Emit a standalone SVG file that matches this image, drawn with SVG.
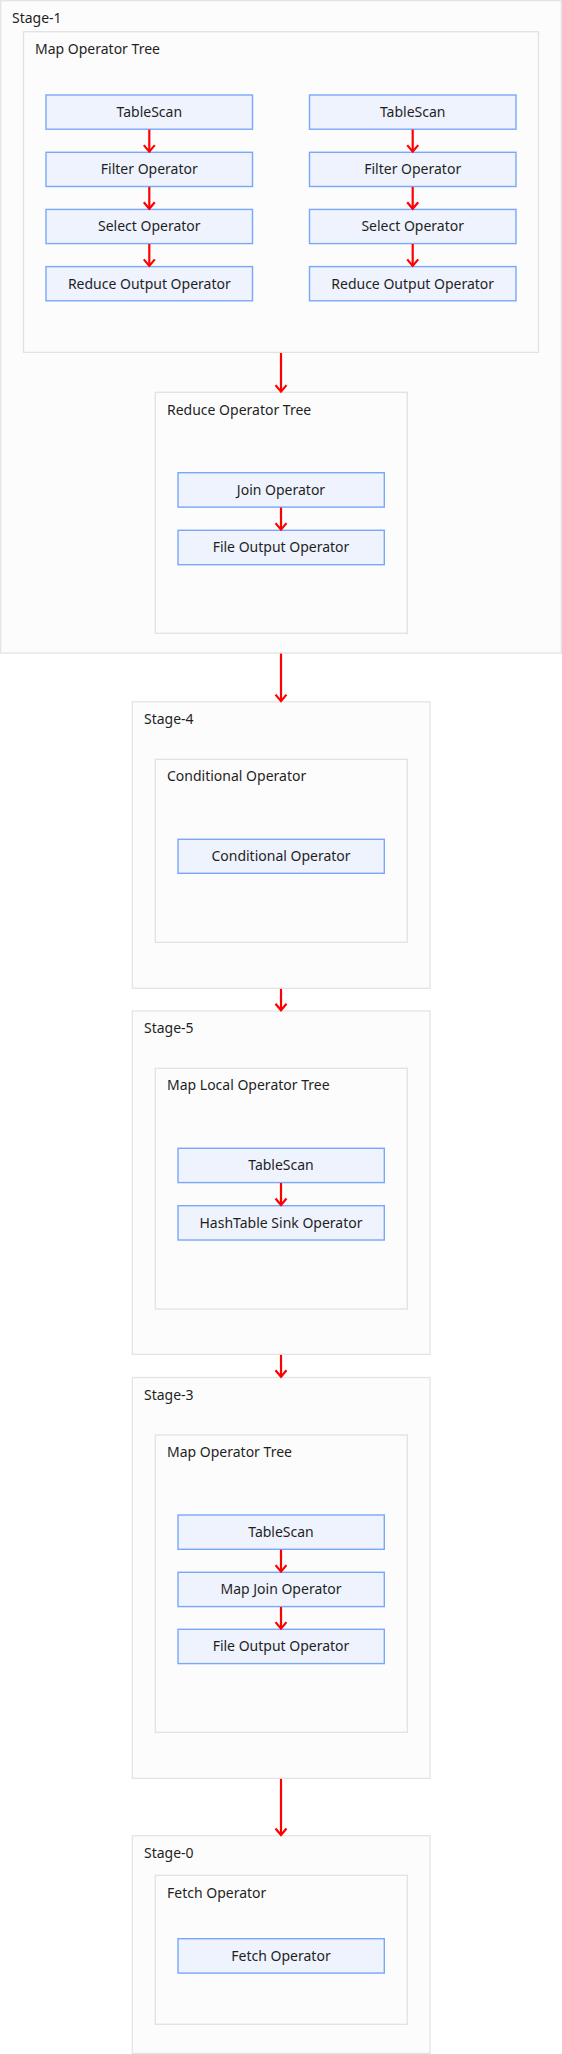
<svg xmlns="http://www.w3.org/2000/svg" width="562" height="2054" viewBox="0 0 562 2054">
<defs>
<marker id="arr" markerUnits="userSpaceOnUse" markerWidth="10" markerHeight="16" viewBox="-8 -8 10 16" refX="0" refY="0" orient="auto" overflow="visible">
<path d="M-6.5,-5.5 L0,0 L-6.5,5.5" fill="none" stroke="#ff0000" stroke-width="2.2"/>
</marker>
<style>
.stage{fill:#fcfcfc;stroke:#e4e4e4;stroke-width:1.3}
.tree{fill:#fcfcfc;stroke:#e2e2e2;stroke-width:1.3}
.op{fill:#eef3fe;stroke:#7aa7f8;stroke-width:1.4}
text{font-family:"Noto Sans","Open Sans","Liberation Sans",sans-serif;font-size:14px;fill:#1f1f1f}
.c{text-anchor:middle}
.e{stroke:#ff0000;stroke-width:2.2;fill:none}
</style>
</defs>

<g id="stage1">
<rect class="stage" x="0.7" y="0.7" width="560.6" height="652.3"/>
<text x="12" y="23">Stage-1</text>
</g>
<g id="mapTree1">
<rect class="tree" x="23.5" y="31.7" width="515" height="320.7"/>
<text x="35" y="54">Map Operator Tree</text>
</g>
<g id="ts1"><rect class="op" x="46" y="95" width="206.5" height="34.2"/><text class="c" x="149.3" y="117">TableScan</text></g>
<g id="fo1"><rect class="op" x="46" y="152.3" width="206.5" height="34.2"/><text class="c" x="149.3" y="174.3">Filter Operator</text></g>
<g id="so1"><rect class="op" x="46" y="209.4" width="206.5" height="34.2"/><text class="c" x="149.3" y="231.4">Select Operator</text></g>
<g id="ro1"><rect class="op" x="46" y="266.6" width="206.5" height="34.2"/><text class="c" x="149.3" y="288.6">Reduce Output Operator</text></g>
<g id="ts2"><rect class="op" x="309.5" y="95" width="206.5" height="34.2"/><text class="c" x="412.7" y="117">TableScan</text></g>
<g id="fo2"><rect class="op" x="309.5" y="152.3" width="206.5" height="34.2"/><text class="c" x="412.7" y="174.3">Filter Operator</text></g>
<g id="so2"><rect class="op" x="309.5" y="209.4" width="206.5" height="34.2"/><text class="c" x="412.7" y="231.4">Select Operator</text></g>
<g id="ro2"><rect class="op" x="309.5" y="266.6" width="206.5" height="34.2"/><text class="c" x="412.7" y="288.6">Reduce Output Operator</text></g>

<g id="reduceTree">
<rect class="tree" x="155.3" y="392.3" width="252" height="241"/>
<text x="167" y="415">Reduce Operator Tree</text>
</g>
<g id="join"><rect class="op" x="178" y="472.7" width="206.3" height="34.4"/><text class="c" x="281" y="494.8">Join Operator</text></g>
<g id="fout1"><rect class="op" x="178" y="530.3" width="206.3" height="34.4"/><text class="c" x="281" y="552.4">File Output Operator</text></g>

<g id="stage4">
<rect class="stage" x="132.3" y="701.8" width="297.7" height="286.5"/>
<text x="144" y="724">Stage-4</text>
</g>
<g id="condTree">
<rect class="tree" x="155.3" y="759.3" width="252" height="183"/>
<text x="167" y="781">Conditional Operator</text>
</g>
<g id="cond"><rect class="op" x="178" y="839.3" width="206.3" height="34"/><text class="c" x="281" y="861.3">Conditional Operator</text></g>

<g id="stage5">
<rect class="stage" x="132.3" y="1011" width="297.7" height="343.3"/>
<text x="144" y="1033">Stage-5</text>
</g>
<g id="mapLocalTree">
<rect class="tree" x="155.3" y="1068.3" width="252" height="240.7"/>
<text x="167" y="1090">Map Local Operator Tree</text>
</g>
<g id="ts3"><rect class="op" x="178" y="1148.3" width="206.3" height="34.3"/><text class="c" x="281" y="1170.4">TableScan</text></g>
<g id="hts"><rect class="op" x="178" y="1205.7" width="206.3" height="34.3"/><text class="c" x="281" y="1227.8">HashTable Sink Operator</text></g>

<g id="stage3">
<rect class="stage" x="132.3" y="1377.5" width="297.7" height="400.8"/>
<text x="144" y="1399.5">Stage-3</text>
</g>
<g id="mapTree3">
<rect class="tree" x="155.3" y="1435" width="252" height="297.3"/>
<text x="167" y="1457">Map Operator Tree</text>
</g>
<g id="ts4"><rect class="op" x="178" y="1515" width="206.3" height="34.3"/><text class="c" x="281" y="1537.1">TableScan</text></g>
<g id="mj"><rect class="op" x="178" y="1572.3" width="206.3" height="34.3"/><text class="c" x="281" y="1594.4">Map Join Operator</text></g>
<g id="fout2"><rect class="op" x="178" y="1629.3" width="206.3" height="34.3"/><text class="c" x="281" y="1651.4">File Output Operator</text></g>

<g id="stage0">
<rect class="stage" x="132.3" y="1835.7" width="297.7" height="217.6"/>
<text x="144" y="1857.5">Stage-0</text>
</g>
<g id="fetchTree">
<rect class="tree" x="155.3" y="1875.3" width="252" height="149"/>
<text x="167" y="1897.5">Fetch Operator</text>
</g>
<g id="fetch"><rect class="op" x="178" y="1938.7" width="206.3" height="34.4"/><text class="c" x="281" y="1960.8">Fetch Operator</text></g>

<g id="connectors">
<path class="e" d="M149.3,129.6 V151.6" marker-end="url(#arr)"/>
<path class="e" d="M149.3,186.9 V208.7" marker-end="url(#arr)"/>
<path class="e" d="M149.3,244 V265.9" marker-end="url(#arr)"/>
<path class="e" d="M412.7,129.6 V151.6" marker-end="url(#arr)"/>
<path class="e" d="M412.7,186.9 V208.7" marker-end="url(#arr)"/>
<path class="e" d="M412.7,244 V265.9" marker-end="url(#arr)"/>
<path class="e" d="M281,353 V391.6" marker-end="url(#arr)"/>
<path class="e" d="M281,507.5 V529.6" marker-end="url(#arr)"/>
<path class="e" d="M281,653.6 V701.1" marker-end="url(#arr)"/>
<path class="e" d="M281,988.9 V1010.3" marker-end="url(#arr)"/>
<path class="e" d="M281,1183 V1205" marker-end="url(#arr)"/>
<path class="e" d="M281,1354.9 V1376.8" marker-end="url(#arr)"/>
<path class="e" d="M281,1549.7 V1571.6" marker-end="url(#arr)"/>
<path class="e" d="M281,1607 V1628.6" marker-end="url(#arr)"/>
<path class="e" d="M281,1778.9 V1835" marker-end="url(#arr)"/>
</g>
</svg>
